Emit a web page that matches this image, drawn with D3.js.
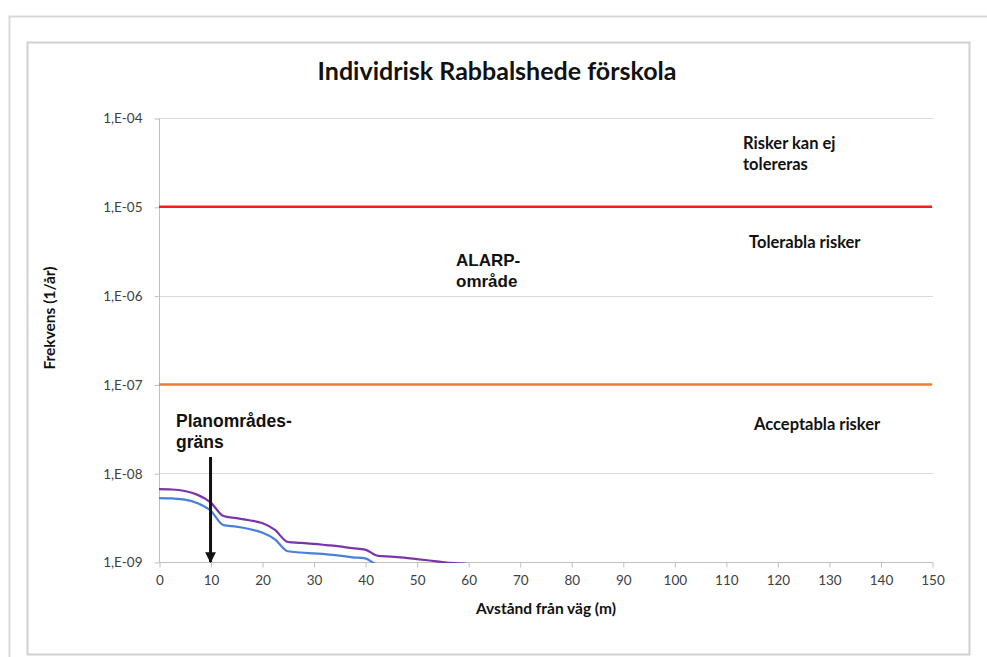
<!DOCTYPE html>
<html>
<head>
<meta charset="utf-8">
<script src="https://cdn.jsdelivr.net/npm/d3@7"></script>
<style>
  body { margin: 0; background: #fff; }
  svg { display: block; }
  .calib { font-family: Lato, "Open Sans", sans-serif; }
  .arial { font-family: "Liberation Sans", Arial, sans-serif; }
</style>
</head>
<body>
<svg></svg>
<script>
const width = 987;
const height = 657;

// distance from road (m)
const distances = [0, 2.5, 5, 7.5, 10, 12.5, 15, 17.5, 20, 22.5, 25, 27.5, 30,
  32.5, 35, 37.5, 40, 42.5, 45, 47.5, 50, 52.5, 55, 57.5, 60];

// individual risk, two curves (1/år)
const riskUpper = [6.6e-9, 6.55e-9, 6.3e-9, 5.7e-9, 4.7e-9, 3.3e-9, 3.12e-9, 2.95e-9,
  2.75e-9, 2.3e-9, 1.68e-9, 1.64e-9, 1.6e-9, 1.55e-9, 1.5e-9, 1.43e-9, 1.38e-9,
  1.17e-9, 1.15e-9, 1.12e-9, 1.08e-9, 1.04e-9, 1.0e-9, 0.97e-9, 0.95e-9];
const riskLower = [5.25e-9, 5.2e-9, 5.05e-9, 4.6e-9, 3.8e-9, 2.6e-9, 2.5e-9, 2.35e-9,
  2.15e-9, 1.8e-9, 1.32e-9, 1.28e-9, 1.25e-9, 1.22e-9, 1.18e-9, 1.13e-9, 1.1e-9,
  0.93e-9, 0.91e-9, 0.89e-9, 0.87e-9, 0.85e-9, 0.83e-9, 0.81e-9, 0.8e-9];

// criteria lines
const limitX = [0, 150];
const upperLimit = 1e-5;
const lowerLimit = 1e-7;

const yTicks = [1e-4, 1e-5, 1e-6, 1e-7, 1e-8, 1e-9];
const yTickLabels = ["1,E-04", "1,E-05", "1,E-06", "1,E-07", "1,E-08", "1,E-09"];
const xTicks = d3.range(0, 151, 10);

const boundaryX = 10; // planområdesgräns

const svg = d3.select("svg").attr("width", width).attr("height", height);

// frames
svg.append("path")
  .attr("d", `M9.5,${height} V16.5 H${width}`)
  .attr("fill", "none").attr("stroke", "#d9d9d9").attr("stroke-width", 2);
svg.append("rect")
  .attr("x", 27.5).attr("y", 42.5).attr("width", 942).attr("height", 612)
  .attr("fill", "#fff").attr("stroke", "#d0d0d0").attr("stroke-width", 2);

const x = d3.scaleLinear().domain([0, 150]).range([159, 932]);
const y = d3.scaleLog().domain([1e-9, 1e-4]).range([562, 118]);

// gridlines
svg.append("g")
  .selectAll("line")
  .data(yTicks)
  .join("line")
  .attr("x1", x(0)).attr("x2", x(150) + 1)
  .attr("y1", (d) => Math.round(y(d)) + 0.5)
  .attr("y2", (d) => Math.round(y(d)) + 0.5)
  .attr("stroke", "#d9d9d9");

// y axis
const yAxis = svg.append("g")
  .attr("transform", `translate(${x(0) + 0.5},0.5)`)
  .call(d3.axisLeft(y).tickValues(yTicks)
    .tickFormat((d, i) => yTickLabels[i]).tickSize(5).tickPadding(12));
yAxis.select(".domain").attr("stroke", "#bfbfbf").attr("d", `M0,${y(1e-4)}V${y(1e-9)}`);
yAxis.selectAll(".tick line").attr("stroke", "#bfbfbf");
yAxis.selectAll("text").attr("class", "calib").attr("font-size", 13.5).attr("fill", "#404040");

// x axis
const xAxis = svg.append("g")
  .attr("transform", `translate(0.5,${Math.round(y(1e-9)) + 0.5})`)
  .call(d3.axisBottom(x).tickValues(xTicks).tickSize(5).tickPadding(8));
xAxis.select(".domain").attr("stroke", "#bfbfbf").attr("d", `M${x(0)},0H${x(150)}`);
xAxis.selectAll(".tick line").attr("stroke", "#bfbfbf");
xAxis.selectAll("text").attr("class", "calib").attr("font-size", 13.5).attr("fill", "#404040");

// criteria lines
const limitLine = d3.line().x((d) => x(d[0])).y((d) => y(d[1]));
svg.append("path")
  .datum(limitX.map((d) => [d, upperLimit]))
  .attr("d", limitLine).attr("fill", "none")
  .attr("stroke", "#ff1a1a").attr("stroke-width", 2.5);
svg.append("path")
  .datum(limitX.map((d) => [d, lowerLimit]))
  .attr("d", limitLine).attr("fill", "none")
  .attr("stroke", "#ed7d31").attr("stroke-width", 2.5);

// risk curves, clipped at the bottom of the plot
svg.append("clipPath").attr("id", "plot")
  .append("rect").attr("x", x(0)).attr("y", y(1e-4))
  .attr("width", x(150) - x(0)).attr("height", y(1e-9) - y(1e-4) + 1);

const curve = d3.line()
  .x((d, i) => x(distances[i]))
  .y((d) => y(d))
  .curve(d3.curveMonotoneX);

const curves = svg.append("g").attr("clip-path", "url(#plot)");
curves.append("path").datum(riskLower).attr("d", curve)
  .attr("fill", "none").attr("stroke", "#4a7fdc").attr("stroke-width", 2.2);
curves.append("path").datum(riskUpper).attr("d", curve)
  .attr("fill", "none").attr("stroke", "#7a35a8").attr("stroke-width", 2.2);

// arrow at planområdesgräns
svg.append("defs").append("marker")
  .attr("id", "head").attr("viewBox", "0 0 10 10")
  .attr("refX", 9).attr("refY", 5)
  .attr("markerWidth", 3.6).attr("markerHeight", 3.6)
  .attr("markerUnits", "strokeWidth")
  .attr("orient", "auto")
  .append("path").attr("d", "M0,0 L10,5 L0,10 Z").attr("fill", "#111");
svg.append("line")
  .attr("x1", x(boundaryX)).attr("x2", x(boundaryX))
  .attr("y1", 457).attr("y2", 562)
  .attr("stroke", "#111").attr("stroke-width", 3)
  .attr("marker-end", "url(#head)");

// titles
svg.append("text").attr("class", "calib")
  .attr("x", 497).attr("y", 80).attr("text-anchor", "middle")
  .attr("font-size", 25).attr("font-weight", "bold").attr("fill", "#111")
  .text("Individrisk Rabbalshede förskola");

svg.append("text").attr("class", "calib")
  .attr("x", 546).attr("y", 614).attr("text-anchor", "middle")
  .attr("font-size", 15.5).attr("font-weight", "bold").attr("fill", "#111")
  .text("Avstånd från väg (m)");

svg.append("text").attr("class", "calib")
  .attr("transform", "translate(55,318) rotate(-90)").attr("text-anchor", "middle")
  .attr("font-size", 15.5).attr("font-weight", "bold").attr("fill", "#111")
  .text("Frekvens (1/år)");

// zone annotations
const note = (lines, xPos, yPos, cls, size, gap) => {
  const t = svg.append("text").attr("class", cls)
    .attr("x", xPos).attr("y", yPos)
    .attr("font-size", size).attr("font-weight", "bold").attr("fill", "#111");
  lines.forEach((l, i) => {
    t.append("tspan").attr("x", xPos).attr("dy", i === 0 ? 0 : gap).text(l);
  });
};
note(["Risker kan ej", "tolereras"], 743, 149, "calib", 16.5, 21);
note(["Tolerabla risker"], 749, 248, "calib", 16.5, 0);
note(["Acceptabla risker"], 754, 430, "calib", 16.5, 0);
note(["ALARP-", "område"], 456, 266, "arial", 17, 21);
note(["Planområdes-", "gräns"], 176, 427, "arial", 17.5, 21);
</script>
</body>
</html>
